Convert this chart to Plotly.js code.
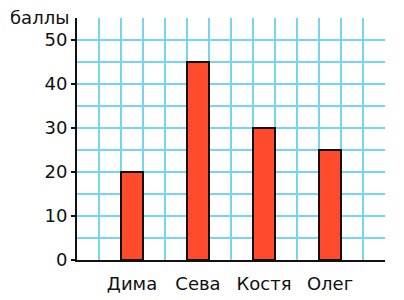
<!DOCTYPE html>
<html>
<head>
<meta charset="utf-8">
<script src="https://cdn.plot.ly/plotly-3.0.1.min.js"></script>
<style>html,body{margin:0;padding:0;background:#fff;}#chart{width:404px;height:300px;}</style>
</head>
<body>
<div id="chart"></div>
<script>
const names = ["Дима", "Сева", "Костя", "Олег"];
const scores = [20, 45, 30, 25];
const slots = [2.5, 5.5, 8.5, 11.5];
const yTicks = [0, 10, 20, 30, 40, 50];
const unitLabel = "баллы";

const gridHolder = {type: "scatter", x: [], y: [], xaxis: "x", yaxis: "y", hoverinfo: "skip"};

const trace = {
  type: "bar",
  x: slots,
  y: scores,
  xaxis: "x2", yaxis: "y2",
  width: 1,
  marker: {color: "#ff4a2b", line: {color: "#111", width: 2}},
  hoverinfo: "skip"
};

const font = {family: "DejaVu Sans, sans-serif", size: 18, color: "#111"};
const gridBlue = "#76d5f3";

const layout = {
  width: 404, height: 300,
  margin: {l: 77, r: 19, t: 18, b: 40},
  paper_bgcolor: "#fff", plot_bgcolor: "#fff",
  showlegend: false,
  font: font,
  xaxis: {
    range: [0, 14], tickmode: "linear", tick0: 0, dtick: 1,
    showgrid: true, gridcolor: gridBlue, gridwidth: 2,
    showticklabels: false, ticks: "", zeroline: false, showline: false
  },
  yaxis: {
    range: [0, 55], tickmode: "linear", tick0: 0, dtick: 5,
    showgrid: true, gridcolor: gridBlue, gridwidth: 2,
    showticklabels: false, ticks: "", zeroline: false, showline: false
  },
  xaxis2: {
    overlaying: "x", anchor: "y2", side: "bottom",
    range: [0, 14],
    tickmode: "array", tickvals: slots, ticktext: names,
    showgrid: false, zeroline: false,
    ticks: "", ticklabelstandoff: 6,
    showline: true, linecolor: "#111", linewidth: 2,
    tickfont: font
  },
  yaxis2: {
    overlaying: "y", anchor: "x2", side: "left",
    range: [0, 55],
    tickmode: "array", tickvals: yTicks,
    showgrid: false, zeroline: false,
    ticks: "outside", ticklen: 4, tickwidth: 2, tickcolor: "#111",
    showline: true, linecolor: "#111", linewidth: 2,
    tickfont: font
  },
  annotations: [{
    text: unitLabel, xref: "paper", yref: "paper", x: 0, y: 1,
    xanchor: "right", yanchor: "middle", xshift: -6, yshift: 1,
    showarrow: false, font: font
  }]
};

Plotly.newPlot("chart", [gridHolder, trace], layout, {staticPlot: true, displayModeBar: false});
</script>
</body>
</html>
